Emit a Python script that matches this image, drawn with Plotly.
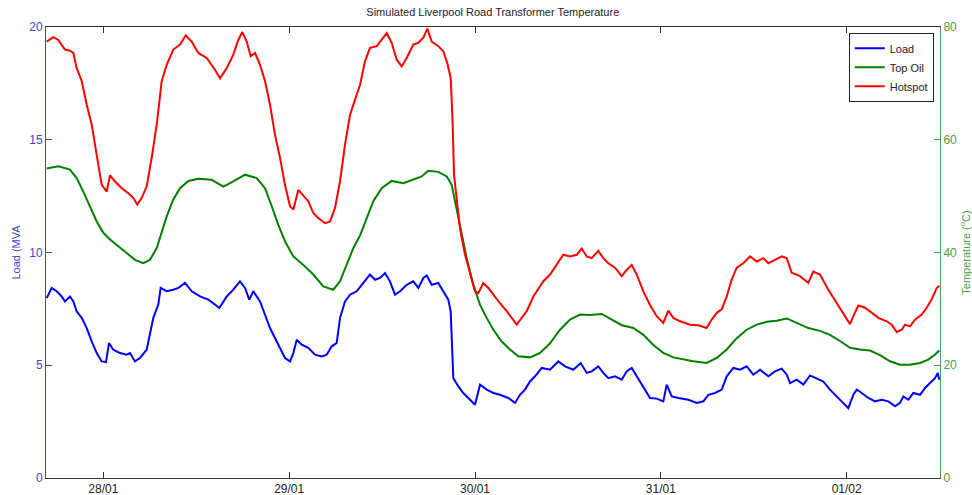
import pandas as pd
import plotly.graph_objects as go

# ---- data (hours relative to 28/01 00:00) ----
load_h = [-7.31, -6.66, -6.02, -5.37, -4.95, -4.30, -3.87, -3.44, -2.79, -2.14, -1.50, -0.85, -0.21,
          0.35, 0.74, 1.29, 2.16, 3.02, 3.45, 4.09, 4.74, 5.60, 6.46, 7.10, 7.41, 8.19, 9.04, 9.69,
          10.55, 11.42, 12.49, 13.56, 14.43, 14.98, 15.94, 16.79, 17.65, 18.30, 18.85, 19.37, 20.24,
          20.88, 21.53, 22.17, 22.82, 23.46, 24.11, 24.54, 24.98, 25.62, 26.47, 27.34, 28.20, 28.85,
          29.50, 30.14, 30.57, 31.21, 31.86, 32.72, 33.58, 34.44, 35.09, 35.73, 36.38, 37.02, 37.67,
          38.32, 39.18, 40.03, 40.68, 41.33, 41.77, 42.41, 43.26, 43.91, 44.55, 44.86, 45.03, 45.20,
          45.85, 46.49, 47.14, 48.00, 48.65, 49.51, 50.37, 51.23, 52.30, 53.17, 53.81, 54.46, 55.10,
          55.75, 56.62, 57.69, 58.76, 59.63, 60.70, 61.65, 62.43, 63.07, 63.92, 64.57, 65.22, 66.08,
          66.95, 67.59, 68.24, 68.88, 69.74, 70.60, 71.47, 72.32, 72.76, 73.41, 74.26, 75.55, 76.64,
          77.49, 78.14, 79.00, 79.86, 80.51, 81.36, 82.23, 83.09, 83.94, 84.81, 85.88, 86.74, 87.61,
          88.26, 88.68, 89.55, 90.40, 91.27, 92.13, 92.98, 93.84, 94.71, 95.57, 96.21, 96.86, 97.30,
          97.94, 98.80, 99.66, 100.53, 101.39, 102.25, 102.89, 103.32, 103.96, 104.61, 105.47, 106.12,
          106.76, 107.41, 107.76, 107.96]
load_mva = [7.98, 8.43, 8.28, 8.05, 7.83, 8.05, 7.83, 7.39, 7.10, 6.65, 6.06, 5.54, 5.17,
            5.14, 5.99, 5.69, 5.54, 5.47, 5.54, 5.17, 5.32, 5.69, 7.10, 7.69, 8.43, 8.28, 8.35, 8.43,
            8.65, 8.28, 8.05, 7.91, 7.69, 7.54, 8.05, 8.35, 8.72, 8.43, 7.91, 8.28, 7.83,
            7.24, 6.65, 6.21, 5.77, 5.32, 5.17, 5.54, 6.13, 5.91, 5.77, 5.47, 5.39, 5.47,
            5.84, 5.99, 7.10, 7.83, 8.13, 8.28, 8.65, 9.02, 8.79, 8.87, 9.09, 8.72, 8.13,
            8.28, 8.57, 8.72, 8.43, 8.87, 8.98, 8.57, 8.65, 8.28, 7.91, 7.39, 5.32, 4.43,
            4.06, 3.77, 3.55, 3.25, 4.14, 3.92, 3.77, 3.69, 3.55, 3.33, 3.69, 3.92, 4.28,
            4.51, 4.88, 4.80, 5.17, 4.95, 4.80, 5.10, 4.66, 4.73, 4.95, 4.66, 4.43, 4.51,
            4.36, 4.73, 4.88, 4.51, 4.06, 3.55, 3.52, 3.40, 4.14, 3.62, 3.55, 3.47, 3.33,
            3.40, 3.69, 3.77, 3.92, 4.51, 4.88, 4.80, 4.95, 4.58, 4.80, 4.51, 4.73, 4.85,
            4.58, 4.21, 4.36, 4.14, 4.55, 4.43, 4.28, 3.92, 3.62, 3.33, 3.10, 3.69, 3.92,
            3.77, 3.55, 3.40, 3.47, 3.40, 3.18, 3.33, 3.62, 3.47, 3.77, 3.69, 3.99,
            4.21, 4.43, 4.66, 4.36]

oil_h = [-7.31, -5.81, -4.30, -3.44, -2.58, -1.72, -0.85, 0.00, 0.87, 1.94, 3.02, 4.09, 5.17, 6.03,
         6.90, 7.54, 8.19, 9.04, 9.91, 10.98, 12.27, 14.00, 15.50, 16.79, 18.30, 19.81, 20.88, 21.75,
         22.60, 23.46, 24.54, 25.83, 27.12, 28.41, 29.70, 30.57, 31.43, 32.29, 33.15, 34.02, 34.87,
         35.95, 37.24, 38.74, 40.03, 41.12, 41.97, 43.26, 44.35, 44.99, 45.42, 45.85, 46.28, 46.93,
         47.78, 48.65, 49.51, 50.37, 51.45, 52.52, 53.59, 55.10, 56.40, 57.69, 58.98, 60.27, 61.56,
         62.85, 64.36, 65.66, 66.95, 68.45, 69.74, 71.03, 72.32, 73.61, 74.90, 76.19, 77.92, 79.22,
         80.51, 81.80, 83.09, 84.38, 85.67, 86.96, 88.26, 89.55, 91.04, 92.55, 93.84, 95.14, 96.43,
         97.72, 99.01, 100.30, 101.60, 102.89, 104.18, 105.47, 106.54, 107.41, 107.96]
oil_temp = [54.9, 55.3, 54.7, 53.2, 50.8, 48.2, 45.5, 43.5, 42.3, 41.1, 39.9, 38.7, 38.1, 38.7,
            40.8, 43.7, 46.4, 49.4, 51.4, 52.7, 53.1, 52.9, 51.7, 52.6, 53.8, 53.2, 51.4, 48.2,
            44.9, 42.0, 39.3, 37.8, 36.1, 34.0, 33.4, 34.9, 37.8, 40.8, 43.0, 46.1, 49.1,
            51.4, 52.7, 52.3, 52.9, 53.5, 54.5, 54.3, 53.5, 52.0, 49.1, 46.1, 43.2, 39.0,
            34.3, 30.7, 28.4, 26.3, 24.2, 22.8, 21.6, 21.4, 22.2, 23.9, 26.3, 28.1, 29.0,
            28.9, 29.1, 28.1, 27.1, 26.6, 25.4, 23.6, 22.2, 21.4, 21.0, 20.7, 20.4, 21.3,
            22.8, 24.8, 26.3, 27.2, 27.7, 27.9, 28.3, 27.5, 26.6, 26.1, 25.4, 24.3, 23.1,
            22.8, 22.6, 21.8, 20.7, 20.1, 20.1, 20.4, 21.0, 21.9, 22.6]

hot_h = [-7.31, -6.46, -5.81, -4.95, -4.30, -3.87, -3.44, -2.79, -2.14, -1.50, -1.07, -0.65, -0.21,
         0.44, 0.87, 1.51, 2.38, 3.23, 3.87, 4.39, 4.96, 5.60, 6.25, 6.90, 7.54, 8.19, 9.04, 9.91,
         10.64, 11.42, 12.27, 13.35, 14.43, 15.07, 15.94, 16.79, 17.43, 17.95, 18.52, 19.04, 19.59,
         20.24, 20.88, 21.53, 22.17, 22.82, 23.46, 24.11, 24.54, 25.18, 25.83, 26.47, 27.12, 27.77,
         28.63, 29.28, 29.92, 30.57, 31.21, 31.86, 32.72, 33.17, 33.79, 34.44, 35.31, 35.95, 36.60,
         37.24, 37.89, 38.54, 39.18, 40.03, 40.68, 41.33, 41.84, 42.41, 43.26, 43.91, 44.42, 44.86,
         45.12, 45.29, 45.64, 46.06, 46.71, 47.36, 48.00, 48.43, 49.07, 49.72, 50.37, 51.23, 52.10,
         52.74, 53.39, 54.03, 54.68, 55.54, 56.40, 56.83, 57.69, 58.55, 59.40, 60.27, 61.14, 61.78,
         62.43, 63.07, 63.92, 64.57, 65.22, 66.08, 66.95, 67.59, 68.24, 68.88, 69.74, 70.60, 71.47,
         72.32, 72.96, 73.61, 74.48, 75.77, 76.84, 77.92, 78.57, 79.22, 79.86, 80.51, 81.15, 81.80,
         82.65, 83.52, 84.38, 85.23, 85.88, 86.74, 87.61, 88.26, 88.90, 89.97, 91.04, 91.69, 92.55,
         93.63, 94.71, 95.57, 96.43, 96.86, 97.50, 98.37, 99.23, 100.09, 101.17, 101.81, 102.46,
         103.11, 103.53, 104.18, 104.82, 105.69, 106.33, 106.98, 107.62, 107.96]
hot_temp = [77.4, 78.2, 77.7, 76.0, 75.8, 75.4, 72.7, 70.4, 66.2, 62.7, 59.1, 55.6, 52.0,
            50.8, 53.7, 52.6, 51.4, 50.5, 49.7, 48.5, 49.7, 51.7, 56.8, 62.7, 70.4, 73.3, 76.0, 76.9,
            78.5, 77.4, 75.4, 74.5, 72.4, 70.9, 72.7, 75.1, 77.7, 79.1, 77.4, 74.8, 75.4,
            73.3, 70.4, 66.2, 60.9, 56.8, 52.0, 48.2, 47.6, 51.1, 50.0, 49.1, 47.0, 46.1,
            45.2, 45.5, 47.9, 52.6, 59.1, 64.4, 68.0, 69.8, 73.9, 76.3, 76.6, 77.7, 78.9,
            77.2, 74.2, 73.0, 74.5, 76.9, 77.2, 78.1, 79.7, 77.4, 76.6, 75.7, 73.6, 71.0,
            62.7, 53.8, 49.1, 44.3, 39.6, 36.1, 33.1, 32.8, 34.6, 33.7, 32.5, 31.0, 29.6,
            28.4, 27.2, 28.4, 29.6, 32.2, 34.0, 34.9, 36.1, 37.8, 39.6, 39.3, 39.6, 40.7,
            39.3, 39.0, 40.3, 39.0, 38.1, 37.3, 35.8, 36.9, 37.8, 36.1, 33.1, 30.7, 28.7,
            27.5, 29.7, 28.4, 27.8, 27.2, 27.1, 26.6, 28.1, 29.3, 29.9, 32.2, 35.2, 37.3,
            38.1, 39.3, 38.4, 39.0, 38.1, 38.7, 39.3, 39.0, 36.4, 35.8, 34.6, 36.6, 36.1,
            33.4, 31.0, 29.0, 27.3, 28.7, 30.6, 30.2, 29.3, 28.4, 27.8, 27.2, 25.9,
            26.3, 27.2, 26.9, 28.1, 29.0, 30.2, 31.7, 33.7, 34.1]

x_range_h = [-7.40, 108.05]
load_ticks = [0, 5, 10, 15, 20]
temp_ticks = [0, 20, 40, 60, 80]

base = pd.Timestamp("2014-01-28 00:00")
def to_time(hours):
    return base + pd.to_timedelta(hours, unit="h")

FONT = "Liberation Sans, Arial, sans-serif"
BLUE_AX = "#4444cc"
GREEN_AX = "#4a9e4a"

fig = go.Figure()
fig.add_trace(go.Scatter(x=to_time(load_h), y=load_mva, name="Load", mode="lines",
                         line=dict(color="#0000ff", width=2), yaxis="y"))
fig.add_trace(go.Scatter(x=to_time(oil_h), y=oil_temp, name="Top Oil", mode="lines",
                         line=dict(color="#008000", width=2), yaxis="y2"))
fig.add_trace(go.Scatter(x=to_time(hot_h), y=hot_temp, name="Hotspot", mode="lines",
                         line=dict(color="#ff0000", width=2), yaxis="y2"))

fig.update_layout(
    width=972, height=495,
    margin=dict(l=46, r=32, t=27, b=17, autoexpand=False),
    paper_bgcolor="white", plot_bgcolor="white",
    font=dict(family=FONT, size=12, color="black"),
    title=dict(text="Simulated Liverpool Road Transformer Temperature",
               x=0.507, xanchor="center", y=0.975, yanchor="middle",
               font=dict(size=11, color="#222222")),
    xaxis=dict(
        type="date",
        range=[to_time(x_range_h[0]), to_time(x_range_h[1])],
        tick0=base, dtick=86400000, tickformat="%d/%m",
        ticks="inside", ticklen=6, tickcolor="#333333",
        showline=True, linecolor="#333333", linewidth=1, mirror="ticks",
        showgrid=False, zeroline=False,
        tickfont=dict(size=12, color="#222222"),
    ),
    yaxis=dict(
        range=[0, 20], tickvals=load_ticks,
        ticks="inside", ticklen=6, tickcolor=BLUE_AX,
        showline=True, linecolor=BLUE_AX, linewidth=1,
        showgrid=False, zeroline=False,
        tickfont=dict(size=12, color=BLUE_AX),
        title=dict(text="Load (MVA", standoff=6, font=dict(size=11, color=BLUE_AX)),
    ),
    yaxis2=dict(
        range=[0, 80], tickvals=temp_ticks,
        overlaying="y", side="right",
        ticks="inside", ticklen=6, tickcolor=GREEN_AX,
        showline=True, linecolor=GREEN_AX, linewidth=1,
        showgrid=False, zeroline=False,
        tickfont=dict(size=12, color=GREEN_AX),
        title=dict(text="Temperature (<sup>o</sup>C)", font=dict(size=11, color=GREEN_AX)),
    ),
    legend=dict(
        x=0.993, y=0.987, xanchor="right", yanchor="top",
        bordercolor="#222222", borderwidth=1, bgcolor="white",
        font=dict(size=11, color="#222222"),
        tracegroupgap=0, itemwidth=30,
    ),
    showlegend=True,
)

fig.write_html("out.html")
